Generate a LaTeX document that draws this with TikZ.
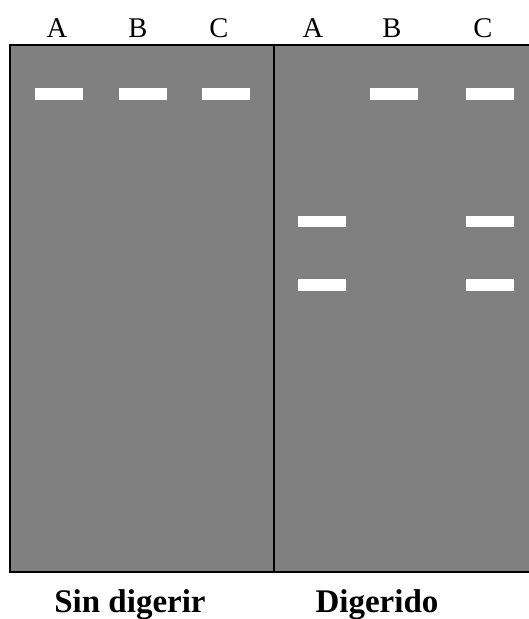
\documentclass[tikz,border=0pt]{standalone}
\usepackage{fontspec}
\setmainfont{Liberation Serif}
\definecolor{gelgray}{RGB}{128,128,128}
\tikzset{
  band/.style={fill=white, draw=none, minimum width=48pt, minimum height=11.5pt, inner sep=0pt},
  lanelabel/.style={anchor=base, inner sep=0pt, font=\fontsize{28.5}{30}\selectfont},
  caption/.style={anchor=base, inner sep=0pt, font=\fontsize{33}{35}\selectfont\bfseries},
}
\begin{document}
\begin{tikzpicture}[x=1pt,y=-1pt]
\useasboundingbox (0,0) rectangle (529,619);
% gel
\fill[gelgray] (10,45) rectangle (532,572);
\draw[line width=2pt] (532,45) -- (10,45) -- (10,572) -- (532,572);
\draw[line width=2pt] (274,45) -- (274,572);
% lane labels
\node[lanelabel] (la1) at (57,37) {A};
\node[lanelabel] (lb1) at (138,37) {B};
\node[lanelabel] (lc1) at (219,37) {C};
\node[lanelabel] (la2) at (313,37) {A};
\node[lanelabel] (lb2) at (392,37) {B};
\node[lanelabel] (lc2) at (483,37) {C};
% bands undigested
\node[band] (ba1) at (58.5,93.8) {};
\node[band] (bb1) at (142.5,93.8) {};
\node[band] (bc1) at (226,93.8) {};
% bands digested
\node[band] (bb2) at (394,93.8) {};
\node[band] (bc2) at (490,93.8) {};
\node[band] (ba2m) at (322,221.3) {};
\node[band] (bc2m) at (490,221.3) {};
\node[band] (ba2l) at (322,285.2) {};
\node[band] (bc2l) at (490,285.2) {};
% captions
\node[caption] (cap1) at (130,612) {Sin digerir};
\node[caption] (cap2) at (377,612) {Digerido};
\end{tikzpicture}
\end{document}
